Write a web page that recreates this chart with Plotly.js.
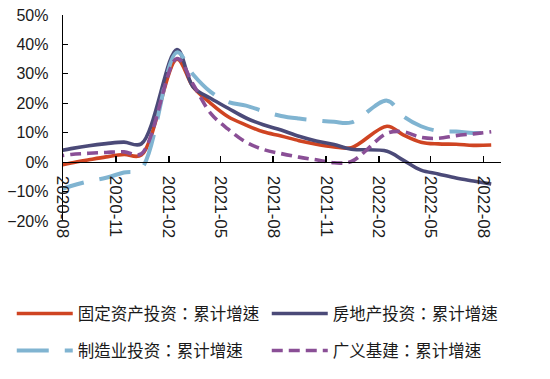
<!DOCTYPE html>
<html>
<head>
<meta charset="utf-8">
<script src="https://cdn.plot.ly/plotly-3.0.1.min.js"></script>
<style>
html,body{margin:0;padding:0;background:#fff;}
#chart{width:550px;height:379px;}
</style>
</head>
<body>
<div id="chart"></div>
<script>
// Monthly data (Jan merged into Feb), cumulative YoY growth, %
const months = ['2020-07','2020-08','2020-09','2020-10','2020-11','2020-12',
  '2021-02','2021-03','2021-04','2021-05','2021-06','2021-07','2021-08','2021-09','2021-10','2021-11','2021-12',
  '2022-02','2022-03','2022-04','2022-05','2022-06','2022-07','2022-08'];
const fixedAsset   = [-1.6,-0.3,0.8,1.8,2.6,2.4,35.0,25.6,19.9,15.4,12.6,10.3,8.9,7.3,6.1,5.2,4.9,12.2,9.3,6.8,6.2,6.1,5.7,5.8];
const realEstate   = [3.4,4.6,5.6,6.3,6.8,6.2,38.3,25.6,21.6,18.3,15.0,12.7,10.9,8.8,7.2,6.0,4.4,3.7,0.7,-2.7,-4.0,-5.4,-6.4,-7.4];
const manufacture  = [-10.2,-8.1,-6.5,-5.3,-3.5,-2.2,37.3,29.8,23.8,20.4,19.2,17.3,15.7,14.8,14.2,13.7,13.5,20.9,15.6,12.2,10.6,10.4,9.9,10.0];
const infra        = [1.8,2.6,3.0,3.3,3.5,2.8,35.2,26.5,16.5,11.2,6.8,4.3,2.9,1.7,0.8,-0.2,0.2,9.8,10.3,8.4,8.1,9.0,9.6,10.3];
const names = ['固定资产投资：累计增速','房地产投资：累计增速','制造业投资：累计增速','广义基建：累计增速'];
const tickMonths = ['2020-08','2020-11','2021-02','2021-05','2021-08','2021-11','2022-02','2022-05','2022-08'];

const xDates = months.map(m => m + '-15');
const FONT = 'Liberation Sans, Arial, Noto Sans CJK SC, sans-serif';
const CJK = 'Noto Sans CJK TC, Noto Sans CJK SC, Liberation Sans, sans-serif';

function tr(y, name, color, width, dash, legend) {
  return {x: xDates, y: y, name: name, type: 'scatter', mode: 'lines',
    line: {color: color, width: width, dash: dash, shape: 'spline', smoothing: 1},
    legend: legend, hoverinfo: 'skip'};
}
const data = [
  tr(fixedAsset, names[0], '#cf4422', 3.6, 'solid', 'legend'),
  tr(realEstate, names[1], '#4b4a78', 3.6, 'solid', 'legend2'),
  tr(manufacture, names[2], '#80b4d1', 4, '32px,16px', 'legend3'),
  tr(infra, names[3], '#8a4f96', 3.6, '11px,6px', 'legend4')
];

function leg(x, y) {
  return {orientation: 'h', xanchor: 'left', yanchor: 'middle', x: x, y: y,
    font: {family: CJK, size: 16.5, color: '#1a1a1a'}, itemwidth: 56,
    bgcolor: 'rgba(0,0,0,0)', borderwidth: 0,
    itemclick: false, itemdoubleclick: false};
}
const col1 = -0.117, col2 = -0.117 + 255/438;

const layout = {
  width: 550, height: 379,
  margin: {l: 63, r: 49, t: 15, b: 158, autoexpand: false},
  paper_bgcolor: '#fff', plot_bgcolor: '#fff',
  font: {family: FONT, color: '#1a1a1a'},
  showlegend: true,
  xaxis: {
    type: 'date', range: ['2020-08-01', '2022-09-01'],
    tickvals: tickMonths.map(m => m + '-01'), ticktext: tickMonths,
    tickangle: 90, ticks: 'inside', ticklen: 6, tickcolor: '#000', tickwidth: 1.2,
    showline: true, linecolor: '#000', linewidth: 1.3,
    showgrid: false, zeroline: false,
    anchor: 'free', position: 20/70,
    tickfont: {family: FONT, size: 17, color: '#1a1a1a'},
    ticklabelstandoff: 9, fixedrange: true
  },
  yaxis: {
    range: [-20, 50], dtick: 10, tick0: 0, ticksuffix: '%',
    ticks: 'inside', ticklen: 5, tickcolor: '#000', tickwidth: 1.2,
    showline: true, linecolor: '#000', linewidth: 1.3,
    showgrid: false, zeroline: false,
    tickfont: {family: FONT, size: 16, color: '#1a1a1a'},
    ticklabelstandoff: 10, fixedrange: true
  },
  legend: leg(col1, -0.45),
  legend2: leg(col2, -0.45),
  legend3: leg(col1, -0.63),
  legend4: leg(col2, -0.63)
};

Plotly.newPlot('chart', data, layout, {displayModeBar: false, staticPlot: true});
</script>
</body>
</html>
